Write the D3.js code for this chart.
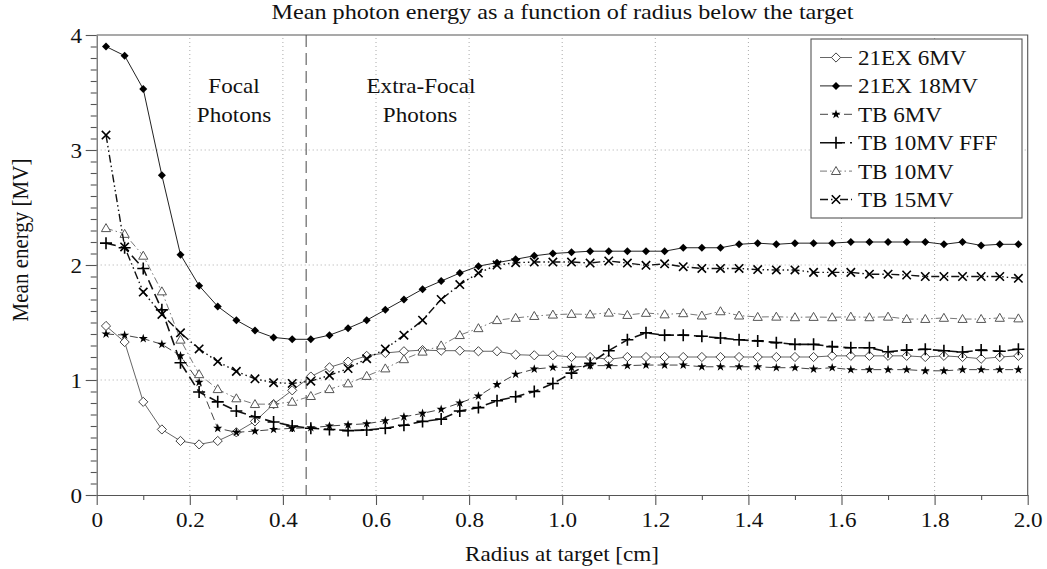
<!DOCTYPE html>
<html>
<head>
<meta charset="utf-8">
<script src="https://cdn.jsdelivr.net/npm/d3@7"></script>
<style>
  html, body { margin: 0; padding: 0; background: #fff; }
  svg { display: block; }
</style>
</head>
<body>
<svg id="chart" width="1047" height="569" font-family="Liberation Serif"></svg>
<script>
// Radius sample positions (cm)
const radius = [0.02,0.06,0.10,0.14,0.18,0.22,0.26,0.30,0.34,0.38,
                0.42,0.46,0.50,0.54,0.58,0.62,0.66,0.70,0.74,0.78,
                0.82,0.86,0.90,0.94,0.98,1.02,1.06,1.10,1.14,1.18,
                1.22,1.26,1.30,1.34,1.38,1.42,1.46,1.50,1.54,1.58,
                1.62,1.66,1.70,1.74,1.78,1.82,1.86,1.90,1.94,1.98];

// Mean energy (MV) per machine / beam
const ex21_6MV = [1.47,1.33,0.81,0.57,0.47,0.44,0.47,0.545,0.64,0.79,
                  0.91,1.03,1.11,1.16,1.21,1.235,1.25,1.26,1.255,1.255,
                  1.25,1.25,1.22,1.215,1.215,1.20,1.20,1.18,1.20,1.20,
                  1.20,1.20,1.20,1.20,1.20,1.20,1.20,1.20,1.20,1.21,
                  1.21,1.21,1.21,1.21,1.20,1.21,1.20,1.185,1.20,1.21];
const ex21_18MV = [3.90,3.82,3.53,2.78,2.09,1.82,1.64,1.52,1.43,1.37,
                   1.354,1.354,1.39,1.45,1.52,1.61,1.70,1.79,1.86,1.93,
                   1.99,2.02,2.05,2.08,2.10,2.11,2.12,2.12,2.12,2.12,
                   2.12,2.15,2.15,2.15,2.18,2.19,2.18,2.19,2.19,2.19,
                   2.20,2.20,2.20,2.20,2.20,2.18,2.20,2.17,2.18,2.18];
const tb_6MV = [1.40,1.39,1.36,1.31,1.21,0.98,0.58,0.545,0.556,0.57,
                0.58,0.585,0.60,0.61,0.62,0.646,0.68,0.71,0.745,0.80,
                0.86,0.96,1.05,1.095,1.11,1.11,1.125,1.125,1.125,1.13,
                1.13,1.13,1.115,1.115,1.115,1.115,1.107,1.107,1.095,1.107,
                1.09,1.09,1.09,1.09,1.08,1.08,1.09,1.09,1.09,1.09];
const tb_10MV_FFF = [2.19,2.15,1.97,1.61,1.15,0.896,0.81,0.73,0.68,0.635,
                     0.60,0.58,0.57,0.56,0.565,0.58,0.606,0.64,0.66,0.73,
                     0.76,0.82,0.855,0.90,0.97,1.06,1.145,1.255,1.35,1.41,
                     1.39,1.39,1.38,1.365,1.35,1.34,1.325,1.31,1.31,1.29,
                     1.28,1.28,1.246,1.26,1.267,1.255,1.243,1.26,1.25,1.267];
const tb_10MV = [2.32,2.27,2.08,1.77,1.35,1.05,0.92,0.84,0.79,0.79,
                 0.81,0.86,0.92,0.97,1.035,1.10,1.18,1.246,1.30,1.39,
                 1.45,1.52,1.54,1.556,1.568,1.574,1.57,1.585,1.565,1.583,
                 1.57,1.58,1.56,1.597,1.56,1.548,1.55,1.545,1.548,1.545,
                 1.55,1.545,1.55,1.53,1.53,1.54,1.53,1.53,1.54,1.535];
const tb_15MV = [3.13,2.157,1.765,1.57,1.41,1.27,1.16,1.075,1.01,0.977,
                 0.97,0.99,1.04,1.10,1.185,1.27,1.39,1.52,1.70,1.83,
                 1.93,2.00,2.02,2.026,2.026,2.026,2.017,2.035,2.017,1.997,
                 2.01,1.985,1.97,1.97,1.97,1.96,1.957,1.957,1.936,1.936,
                 1.936,1.92,1.92,1.913,1.90,1.90,1.90,1.90,1.90,1.884];

const seriesNames = ["21EX 6MV","21EX 18MV","TB 6MV","TB 10MV FFF","TB 10MV","TB 15MV"];

const xTicks = [0,0.2,0.4,0.6,0.8,1.0,1.2,1.4,1.6,1.8,2.0];
const xTickLabels = ["0","0.2","0.4","0.6","0.8","1.0","1.2","1.4","1.6","1.8","2.0"];
const yTicks = [0,1,2,3,4];
const yTickLabels = ["0","1","2","3","4"];

const focalBoundary = 0.45;

// ---- drawing ----
const svg = d3.select("#chart");
const SX = 1.1;          // horizontal glyph stretch
const FS = 21;           // base font size
const FONT = "Liberation Serif";

const x = d3.scaleLinear().domain([0, 2]).range([96.7, 1027.7]);
const y = d3.scaleLinear().domain([0, 4]).range([495, 35]);

const styles = [
  { values: ex21_6MV,   stroke: "#666", width: 1.0, dash: null,              marker: "diamondOpen" },
  { values: ex21_18MV,  stroke: "#222", width: 1.0, dash: null,              marker: "diamondFilled" },
  { values: tb_6MV,     stroke: "#444", width: 1.0, dash: "8,4",             marker: "star" },
  { values: tb_10MV_FFF,stroke: "#111", width: 1.6, dash: "10,5",            marker: "plus" },
  { values: tb_10MV,    stroke: "#777", width: 1.0, dash: "7,3,1.5,3",       marker: "triangle" },
  { values: tb_15MV,    stroke: "#111", width: 1.4, dash: "8,3,1.5,3,1.5,3", marker: "cross" }
];

function drawMarker(g, type, cx, cy) {
  switch (type) {
    case "diamondOpen":
      g.append("path").attr("d", `M${cx},${cy-4.6}L${cx+4.6},${cy}L${cx},${cy+4.6}L${cx-4.6},${cy}Z`)
        .attr("fill", "#fff").attr("stroke", "#444").attr("stroke-width", 1);
      break;
    case "diamondFilled":
      g.append("path").attr("d", `M${cx},${cy-4}L${cx+4},${cy}L${cx},${cy+4}L${cx-4},${cy}Z`)
        .attr("fill", "#000");
      break;
    case "star":
      g.append("path").attr("d", d3.symbol(d3.symbolStar, 26)())
        .attr("transform", `translate(${cx},${cy})`).attr("fill", "#000");
      break;
    case "plus":
      g.append("path").attr("d", `M${cx-6},${cy}H${cx+6}M${cx},${cy-6}V${cy+6}`)
        .attr("stroke", "#000").attr("stroke-width", 1.6).attr("fill", "none");
      break;
    case "triangle":
      g.append("path").attr("d", `M${cx},${cy-4.6}L${cx+4.6},${cy+3.4}L${cx-4.6},${cy+3.4}Z`)
        .attr("fill", "#fff").attr("stroke", "#555").attr("stroke-width", 1);
      break;
    case "cross":
      g.append("path").attr("d", `M${cx-4.2},${cy-4.2}L${cx+4.2},${cy+4.2}M${cx-4.2},${cy+4.2}L${cx+4.2},${cy-4.2}`)
        .attr("stroke", "#000").attr("stroke-width", 1.6).attr("fill", "none");
      break;
  }
}

// grid
const grid = svg.append("g").attr("stroke", "#aaa").attr("stroke-width", 1).attr("stroke-dasharray", "1,3");
xTicks.slice(1, -1).forEach(t => grid.append("line")
  .attr("x1", x(t)).attr("x2", x(t)).attr("y1", y(0)).attr("y2", y(4)));
yTicks.slice(1, -1).forEach(t => grid.append("line")
  .attr("x1", x(0)).attr("x2", x(2)).attr("y1", y(t)).attr("y2", y(t)));

// focal / extra-focal boundary
svg.append("line")
  .attr("x1", x(focalBoundary)).attr("x2", x(focalBoundary))
  .attr("y1", y(4)).attr("y2", y(0))
  .attr("stroke", "#666").attr("stroke-width", 1.2).attr("stroke-dasharray", "12,6");

// axes
const xMinor = d3.range(1, 20, 2).map(i => i / 10);
const yMinor = d3.range(1, 40).filter(i => i % 10 !== 0).map(i => i / 10);

const xAxis = svg.append("g").attr("transform", `translate(0,${y(0)})`)
  .call(d3.axisBottom(x).tickValues(xTicks).tickFormat((d, i) => xTickLabels[i])
    .tickSizeInner(10).tickSizeOuter(0));
svg.append("g").attr("transform", `translate(0,${y(0)})`)
  .call(d3.axisBottom(x).tickValues(xMinor).tickFormat("").tickSizeInner(5).tickSizeOuter(0))
  .select(".domain").remove();

const yAxis = svg.append("g").attr("transform", `translate(${x(0)},0)`)
  .call(d3.axisLeft(y).tickValues(yTicks).tickFormat((d, i) => yTickLabels[i])
    .tickSizeInner(11).tickSizeOuter(0));
svg.append("g").attr("transform", `translate(${x(0)},0)`)
  .call(d3.axisLeft(y).tickValues(yMinor).tickFormat("").tickSizeInner(6).tickSizeOuter(0))
  .select(".domain").remove();

svg.selectAll(".tick line, .domain").attr("stroke", "#555").attr("stroke-width", 1.1);

xAxis.attr("font-family", FONT).attr("font-size", FS);
yAxis.attr("font-family", FONT).attr("font-size", FS);
xAxis.selectAll("text")
  .attr("y", 32).attr("dy", 0)
  .attr("fill", "#111")
  .attr("transform", `scale(${SX},1)`);
yAxis.selectAll("text")
  .attr("x", -14.7 / SX).attr("dy", "0.34em")
  .attr("fill", "#111")
  .attr("transform", `scale(${SX},1)`);

// frame top and right
svg.append("path")
  .attr("d", `M${x(0)},${y(4)}H${x(2)}V${y(0)}`)
  .attr("fill", "none").attr("stroke", "#555").attr("stroke-width", 1.1);

// series
const lineGen = d3.line().x((d, i) => x(radius[i])).y(d => y(d));
styles.forEach(s => {
  const g = svg.append("g");
  g.append("path").datum(s.values).attr("d", lineGen)
    .attr("fill", "none").attr("stroke", s.stroke).attr("stroke-width", s.width)
    .attr("stroke-dasharray", s.dash);
  s.values.forEach((v, i) => drawMarker(g, s.marker, x(radius[i]), y(v)));
});

// text helper (slightly wide serif glyphs)
function label(txt, cx, cy, size, anchor) {
  svg.append("text")
    .attr("transform", `translate(${cx},${cy}) scale(${SX},1)`)
    .attr("text-anchor", anchor || "middle")
    .attr("font-family", FONT)
    .attr("font-size", size).attr("fill", "#111")
    .text(txt);
}

label("Mean photon energy as a function of radius below the target", 562.5, 19, 22);
label("Radius at target [cm]", 562, 561, FS);
svg.append("text")
  .attr("transform", `translate(28,240) scale(${SX},1) rotate(-90)`)
  .attr("text-anchor", "middle").attr("font-family", FONT).attr("font-size", FS).attr("fill", "#111")
  .text("Mean energy [MV]");

label("Focal", 234, 93, FS);
label("Photons", 234, 122, FS);
label("Extra-Focal", 421, 93, FS);
label("Photons", 420, 122, FS);

// legend
const legend = svg.append("g");
legend.append("rect").attr("x", 811).attr("y", 39).attr("width", 211).attr("height", 179)
  .attr("fill", "#fff").attr("stroke", "#555").attr("stroke-width", 1.1);
seriesNames.forEach((name, i) => {
  const s = styles[i];
  const by = 65 + i * 28.4;
  const cy = by - 7.5;
  legend.append("line").attr("x1", 820).attr("x2", 852).attr("y1", cy).attr("y2", cy)
    .attr("stroke", s.stroke).attr("stroke-width", s.width).attr("stroke-dasharray", s.dash);
  drawMarker(legend, s.marker, 836, cy);
  legend.append("text")
    .attr("transform", `translate(858,${by}) scale(${SX},1)`)
    .attr("font-family", FONT)
    .attr("font-size", FS).attr("fill", "#111").text(name);
});
</script>
</body>
</html>
